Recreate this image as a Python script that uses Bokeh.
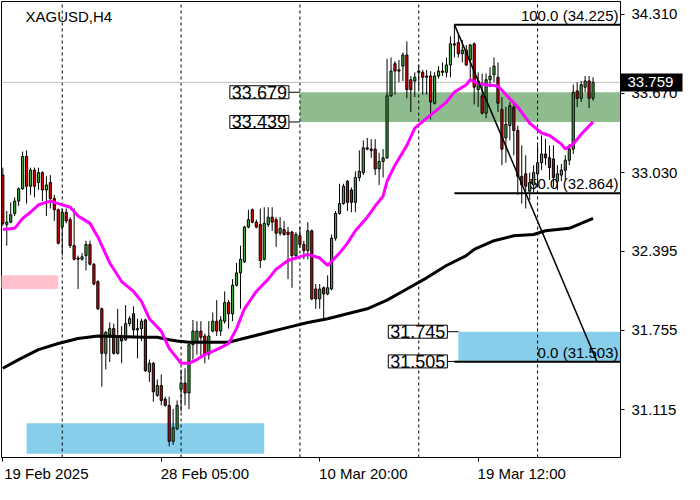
import numpy as np
from bokeh.plotting import figure
from bokeh.models import Range1d, FixedTicker, NumeralTickFormatter, Label, LinearAxis
from bokeh.core.properties import value
from bokeh.embed import file_html
from bokeh.resources import INLINE

FONT = "Liberation Sans"

# ---------------- data (XAGUSD, H4) ----------------
opens = [33.01, 32.61, 32.63, 32.70, 32.80, 32.90, 33.16, 32.92, 33.05, 32.95,
         33.03, 32.89, 32.95, 32.82, 32.73, 32.59, 32.71, 32.65, 32.44, 32.34,
         32.33, 32.36, 32.45, 32.29, 32.15, 31.93, 31.57, 31.72, 31.77, 31.57,
         31.70, 31.68, 31.81, 31.89, 31.77, 31.77, 31.84, 31.42, 31.49, 31.23,
         31.31, 31.20, 31.15, 30.86, 30.96, 31.28, 31.33, 31.25, 31.64, 31.66,
         31.75, 31.71, 31.56, 31.75, 31.83, 31.75, 31.83, 31.98, 31.89, 32.12,
         32.22, 32.31, 32.59, 32.73, 32.63, 32.61, 32.33, 32.61, 32.67, 32.65,
         32.54, 32.57, 32.55, 32.55, 32.36, 32.52, 32.45, 32.40, 32.56, 32.09,
         32.01, 32.10, 32.05, 32.09, 32.50, 32.70, 32.78, 32.96, 32.89, 32.79,
         32.99, 33.03, 33.23, 33.22, 33.22, 33.06, 33.12, 33.15, 33.65, 33.91,
         33.86, 33.89, 33.98, 33.78, 33.77, 33.85, 33.84, 33.80, 33.81, 33.59,
         33.81, 33.85, 33.84, 33.90, 34.07, 34.08, 33.99, 34.02, 33.94, 34.07,
         33.70, 33.65, 33.51, 33.78, 33.82, 33.80, 33.54, 33.31, 33.41, 33.56,
         33.37, 33.00, 33.02, 32.88, 32.93, 33.02, 33.11, 33.18, 33.15, 33.14,
         32.96, 33.01, 33.05, 33.13, 33.22, 33.69, 33.63, 33.72, 33.77, 33.63]
highs = [33.07, 32.72, 32.79, 32.83, 32.91, 33.20, 33.21, 33.07, 33.07, 33.07,
         33.04, 33.00, 33.01, 32.85, 32.74, 32.74, 32.74, 32.67, 32.74, 32.36,
         32.38, 32.48, 32.48, 32.30, 32.16, 31.94, 31.75, 31.82, 31.81, 31.93,
         31.79, 31.96, 31.87, 31.95, 31.85, 31.85, 31.85, 31.52, 31.50, 31.36,
         31.40, 31.22, 31.22, 31.12, 31.19, 31.44, 31.45, 31.65, 31.84, 31.83,
         31.83, 31.73, 31.83, 31.90, 32.00, 31.87, 32.07, 32.00, 32.17, 32.30,
         32.44, 32.60, 32.73, 32.74, 32.65, 32.74, 32.75, 32.75, 32.75, 32.67,
         32.67, 32.64, 32.59, 32.56, 32.55, 32.59, 32.48, 32.63, 32.57, 32.13,
         32.13, 32.11, 32.20, 32.53, 32.72, 32.94, 32.94, 32.97, 32.91, 33.04,
         33.21, 33.29, 33.31, 33.30, 33.30, 33.19, 33.22, 33.95, 33.96, 33.93,
         33.94, 34.00, 34.09, 33.81, 33.84, 33.90, 33.86, 33.86, 33.85, 33.84,
         33.89, 33.92, 33.96, 34.13, 34.225, 34.15, 34.10, 34.06, 34.07, 34.08,
         33.84, 33.83, 33.83, 33.88, 33.96, 33.92, 33.64, 33.56, 33.60, 33.60,
         33.41, 33.25, 33.17, 33.03, 33.09, 33.25, 33.33, 33.30, 33.25, 33.25,
         33.09, 33.10, 33.17, 33.26, 33.74, 33.76, 33.77, 33.81, 33.81, 33.80]
lows = [32.60, 32.44, 32.62, 32.68, 32.76, 32.89, 32.78, 32.85, 32.83, 32.89,
        32.80, 32.68, 32.74, 32.64, 32.45, 32.36, 32.62, 32.42, 32.32, 32.09,
        32.32, 32.24, 32.28, 32.12, 31.92, 31.30, 31.44, 31.50, 31.56, 31.56,
        31.49, 31.67, 31.79, 31.69, 31.53, 31.67, 31.42, 31.34, 31.18, 31.22,
        31.15, 31.14, 30.82, 30.83, 30.95, 31.10, 31.15, 31.12, 31.52, 31.56,
        31.54, 31.49, 31.52, 31.74, 31.71, 31.71, 31.81, 31.77, 31.83, 32.11,
        31.93, 32.30, 32.58, 32.62, 32.58, 32.26, 32.32, 32.59, 32.56, 32.43,
        32.52, 32.52, 32.17, 32.10, 32.33, 32.42, 32.33, 32.33, 32.00, 31.93,
        31.93, 31.83, 32.04, 32.08, 32.48, 32.69, 32.77, 32.72, 32.71, 32.71,
        32.96, 33.01, 33.21, 33.15, 33.01, 32.93, 32.99, 33.14, 33.64, 33.66,
        33.76, 33.77, 33.63, 33.52, 33.64, 33.70, 33.66, 33.66, 33.46, 33.58,
        33.79, 33.81, 33.80, 33.80, 33.96, 33.96, 33.92, 33.89, 33.78, 33.58,
        33.56, 33.50, 33.47, 33.72, 33.76, 33.52, 33.09, 33.11, 33.29, 33.17,
        32.85, 32.78, 32.74, 32.81, 32.87, 32.93, 33.05, 33.09, 32.97, 32.91,
        32.89, 32.96, 32.97, 33.09, 33.18, 33.56, 33.60, 33.68, 33.55, 33.61]
closes = [32.62, 32.63, 32.69, 32.80, 32.90, 33.16, 32.92, 33.05, 32.92, 33.03,
          32.89, 32.93, 32.82, 32.73, 32.46, 32.71, 32.64, 32.44, 32.33, 32.33,
          32.35, 32.45, 32.29, 32.13, 31.93, 31.57, 31.74, 31.77, 31.57, 31.70,
          31.67, 31.81, 31.85, 31.76, 31.76, 31.83, 31.43, 31.49, 31.26, 31.31,
          31.19, 31.15, 30.86, 30.97, 31.15, 31.33, 31.25, 31.64, 31.75, 31.75,
          31.70, 31.56, 31.71, 31.83, 31.75, 31.84, 31.98, 31.89, 32.12, 32.22,
          32.33, 32.59, 32.65, 32.63, 32.59, 32.32, 32.62, 32.67, 32.63, 32.54,
          32.58, 32.53, 32.53, 32.36, 32.53, 32.45, 32.40, 32.56, 32.01, 32.01,
          32.09, 32.05, 32.10, 32.50, 32.70, 32.78, 32.92, 32.79, 32.79, 32.99,
          33.04, 33.23, 33.22, 33.21, 33.06, 33.12, 33.15, 33.65, 33.85, 33.85,
          33.85, 33.98, 33.70, 33.70, 33.80, 33.84, 33.80, 33.81, 33.60, 33.81,
          33.85, 33.84, 33.90, 34.07, 34.06, 33.99, 34.02, 33.90, 34.06, 33.72,
          33.77, 33.51, 33.78, 33.81, 33.89, 33.59, 33.22, 33.42, 33.57, 33.37,
          33.00, 32.93, 32.92, 32.95, 33.03, 33.11, 33.18, 33.15, 33.07, 32.99,
          33.02, 33.05, 33.13, 33.22, 33.68, 33.63, 33.74, 33.77, 33.63, 33.759]

# fast moving average (magenta), sampled at bar indices
ma_fast_idx = [0, 3, 5, 7, 9, 12, 14, 17, 19, 22, 24, 27, 30, 33, 35, 37, 40, 42, 45, 47,
               49, 51, 54, 57, 59, 61, 64, 67, 69, 72, 74, 77, 80, 82, 85, 87, 89, 92, 94, 96,
               97, 99, 102, 104, 107, 109, 112, 114, 117, 118, 120, 122, 125, 127, 130, 133,
               136, 138, 141, 142, 144, 146, 149]
ma_fast_val = [32.57, 32.58, 32.66, 32.71, 32.77, 32.80, 32.78, 32.75, 32.68, 32.62,
               32.51, 32.30, 32.15, 32.07, 31.99, 31.85, 31.75, 31.61, 31.49, 31.49,
               31.52, 31.56, 31.60, 31.65, 31.77, 31.93, 32.07, 32.17, 32.25, 32.32,
               32.34, 32.37, 32.34, 32.28, 32.38, 32.46, 32.56, 32.67, 32.76, 32.84,
               32.96, 33.09, 33.25, 33.39, 33.47, 33.52, 33.60, 33.68, 33.74, 33.78,
               33.75, 33.74, 33.73, 33.66, 33.56, 33.43, 33.35, 33.33, 33.26, 33.22,
               33.26, 33.34, 33.44]
# slow moving average (black)
ma_slow_idx = [0, 4, 9, 14, 19, 24, 36, 39, 42, 44, 47, 57, 62, 67, 72, 77, 82, 87, 92, 97,
               102, 107, 112, 117, 119, 124, 129, 134, 137, 143, 149]
ma_slow_val = [31.45, 31.52, 31.60, 31.65, 31.69, 31.71, 31.70, 31.70, 31.68, 31.67,
               31.66, 31.66, 31.70, 31.74, 31.78, 31.82, 31.85, 31.89, 31.93, 32.00,
               32.09, 32.18, 32.28, 32.36, 32.41, 32.48, 32.52, 32.53, 32.56, 32.58,
               32.66]

price_ticks = [34.310, 33.670, 33.030, 32.395, 31.755, 31.115]
date_tick_idx = [0, 40, 80, 120]
date_tick_labels = ["19 Feb 2025", "28 Feb 05:00", "10 Mar 20:00", "19 Mar 12:00"]
grid_idx = [15, 45, 75, 105, 135]
current_price = 33.759
symbol_title = "XAGUSD,H4"

# Fibonacci retracement
fib_idx = [114, 150]
fib_price = [34.225, 31.503]
fib_levels = [100.0, 50.0, 0.0]
fib_level_prices = [34.225, 32.864, 31.503]

# labelled zones (extend to the right edge)
zone_left = [75, 115]
zone_top = [33.679, 31.745]
zone_bottom = [33.439, 31.505]
zone_color = ["#8fbc8f", "#87ceeb"]
# plain rectangles
rect_left = [6, -5]
rect_right = [66, 14]
rect_top = [31.005, 32.20]
rect_bottom = [30.76, 32.09]
rect_color = ["#87ceeb", "#ffc0cb"]

# ---------------- figure ----------------
x_start, x_end = -0.33, 155.93
y_start, y_end = 30.729, 34.412
W, H = 684, 484
B_LEFT, B_TOP, B_RIGHT, B_BOTTOM = 1, 1, 64, 24
FS = 15  # font size in px

ARIAL_W = {" ": 0.278, ":": 0.278, ".": 0.278, "F": 0.611, "M": 0.833, "e": 0.556,
           "b": 0.556, "a": 0.556, "r": 0.333}
def text_width(s, size):
    return sum(ARIAL_W.get(ch, 0.556) for ch in s) * size

p = figure(width=W, height=H,
           x_range=Range1d(x_start, x_end), y_range=Range1d(y_start, y_end),
           y_axis_location="right", output_backend="svg", toolbar_location=None,
           min_border_left=B_LEFT, min_border_top=B_TOP,
           min_border_right=B_RIGHT, min_border_bottom=B_BOTTOM,
           background_fill_color="white", border_fill_color="white")
p.grid.visible = False
p.outline_line_color = "black"
p.outline_line_width = 1

# --- price axis ---
# inner axis: frame edge, tick marks (as minor ticks) and the current-price box
BOX_LEN, BOX_H, BOX_PAD = 62, 18, 7
pa = LinearAxis(ticker=FixedTicker(ticks=[current_price], minor_ticks=price_ticks),
                formatter=NumeralTickFormatter(format="0.000"),
                axis_line_color="black",
                minor_tick_in=0, minor_tick_out=4, minor_tick_line_color="black",
                major_tick_in=0, major_tick_out=BOX_LEN, major_tick_line_width=BOX_H,
                major_tick_line_color="black", major_tick_line_cap="butt",
                major_label_standoff=BOX_PAD - BOX_LEN, major_label_text_color="white",
                major_label_text_font=FONT, major_label_text_font_size="%dpx" % FS)
# outer axis: only the price labels, pulled back next to the frame
ya = p.yaxis[0]
ya.ticker = FixedTicker(ticks=price_ticks, minor_ticks=[])
ya.formatter = NumeralTickFormatter(format="0.000")
ya.major_tick_line_color = None
ya.minor_tick_line_color = None
ya.major_tick_in = 0
ya.major_tick_out = 0
ya.minor_tick_in = 0
ya.minor_tick_out = 0
ya.axis_line_color = None
label_w = text_width("%.3f" % current_price, FS)
inner_size = BOX_PAD + label_w
ya.major_label_standoff = int(round(8 - inner_size))
ya.major_label_text_font = FONT
ya.major_label_text_font_size = "%dpx" % FS
ya.major_label_text_color = "black"
p.right = [pa] + list(p.right)

# --- date axis: labels start at their tick (labels are centred, so the label
# centre sits half a label width right of the tick; the ticks are minor ticks)
px_per_bar = (W - B_LEFT - B_RIGHT) / (x_end - x_start)
label_pos = [int(round(i + text_width(t, FS) / 2 / px_per_bar))
             for i, t in zip(date_tick_idx, date_tick_labels)]
xa = p.xaxis[0]
xa.ticker = FixedTicker(ticks=label_pos, minor_ticks=date_tick_idx)
xa.major_label_overrides = {pos: t for pos, t in zip(label_pos, date_tick_labels)}
xa.major_tick_line_color = None
xa.major_tick_in = 0
xa.major_tick_out = 4
xa.minor_tick_in = 0
xa.minor_tick_out = 4
xa.minor_tick_line_color = "black"
xa.major_label_standoff = 3
xa.major_label_text_font = FONT
xa.major_label_text_font_size = "%dpx" % FS
xa.major_label_text_color = "black"
xa.axis_line_color = "black"

# rectangles / zones (behind everything)
p.quad(left=rect_left, right=rect_right, top=rect_top, bottom=rect_bottom,
       fill_color=rect_color, line_color=None)
p.quad(left=zone_left, right=[x_end] * len(zone_left), top=zone_top, bottom=zone_bottom,
       fill_color=zone_color, line_color=None)

# vertical dashed grid lines
p.ray(x=grid_idx, y=[y_start] * len(grid_idx), length=0, angle=np.pi / 2,
      line_color="black", line_width=1, line_dash="3 3")
# current price line
p.ray(x=[x_start], y=[current_price], length=0, angle=0, line_color="#c0c0c0", line_width=1)

# fib level texts (under candles)
fib_texts = ["%.1f (%.3f)" % (l, v) for l, v in zip(fib_levels, fib_level_prices)]
p.text(x=[x_end] * 3, y=fib_level_prices, text=fib_texts, text_align="right",
       text_baseline="bottom", x_offset=-2, y_offset=-1,
       text_font=value(FONT), text_font_size=value("%dpx" % FS), text_color="black")

# candles
idx = list(range(len(closes)))
body_top = [max(o, c) for o, c in zip(opens, closes)]
body_bot = [min(o, c) for o, c in zip(opens, closes)]
colors = ["#3cab3c" if c >= o else "#e00000" for o, c in zip(opens, closes)]
p.segment(x0=idx, y0=lows, x1=idx, y1=highs, line_color="black", line_width=1)
p.vbar(x=idx, width=0.55, top=body_top, bottom=body_bot, fill_color=colors,
       line_color="black", line_width=1)

# moving averages
p.line(ma_slow_idx, ma_slow_val, line_color="black", line_width=3)
p.line(ma_fast_idx, ma_fast_val, line_color="#ff00ff", line_width=3)

# fibonacci
p.ray(x=[fib_idx[0]] * 3, y=fib_level_prices, length=0, angle=0, line_color="black", line_width=2)
p.line(fib_idx, fib_price, line_color="black", line_width=1.5)

# zone price labels with connectors
for left, top, bot in zip(zone_left, zone_top, zone_bottom):
    for pr in (top, bot):
        p.ray(x=[left], y=[pr], length=11, length_units="screen", angle=np.pi,
              line_color="black", line_width=1)
        p.add_layout(Label(x=left, y=pr, x_offset=-11, text="%.3f" % pr,
                           text_align="right", text_baseline="middle",
                           text_font=FONT, text_font_size="18px", text_color="black",
                           background_fill_color="white", border_line_color="black",
                           border_line_width=1,
                           padding=dict(left=2, right=2, top=0, bottom=0)))

# title
p.add_layout(Label(x=x_start, y=y_end, x_offset=24, y_offset=-6, text=symbol_title,
                   text_align="left", text_baseline="top",
                   text_font=FONT, text_font_size="%dpx" % FS, text_color="black"))

open("out.html", "w").write(file_html(p, INLINE))
